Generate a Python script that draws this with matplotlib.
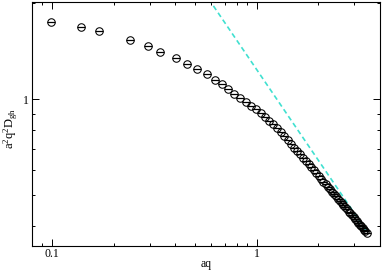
import matplotlib
matplotlib.use("Agg")
import matplotlib.pyplot as plt
from matplotlib.ticker import FixedLocator, NullFormatter, FixedFormatter

plt.rcParams['font.family'] = ['Liberation Serif', 'DejaVu Serif']
plt.rcParams['mathtext.fontset'] = 'custom'
plt.rcParams['mathtext.rm'] = 'Liberation Serif'
plt.rcParams['mathtext.it'] = 'Liberation Serif'

# data
q = [0.0986, 0.1385, 0.1696, 0.2401, 0.295, 0.339, 0.4027, 0.459, 0.5097,
     0.5703, 0.6237, 0.675,
     0.724, 0.778, 0.831, 0.885, 0.938, 0.991, 1.045, 1.098, 1.152, 1.205,
     1.259, 1.312, 1.366, 1.419, 1.473, 1.526, 1.580, 1.633, 1.687, 1.740,
     1.793, 1.847, 1.900, 1.954, 2.007, 2.061, 2.114, 2.168, 2.221, 2.275,
     2.328, 2.382, 2.435, 2.489, 2.542, 2.595, 2.649, 2.702, 2.756, 2.809,
     2.863, 2.916, 2.970, 3.023, 3.077, 3.130, 3.184, 3.237, 3.291, 3.344,
     3.397, 3.451]
d = [1.737, 1.683, 1.635, 1.532, 1.464, 1.405, 1.340, 1.289, 1.244,
     1.195, 1.149, 1.114,
     1.072, 1.038, 1.008, 0.979, 0.954, 0.931, 0.905, 0.880, 0.856, 0.834,
     0.811, 0.787, 0.764, 0.743, 0.724, 0.705, 0.688, 0.671, 0.655, 0.639,
     0.625, 0.611, 0.598, 0.586, 0.574, 0.563, 0.552, 0.542, 0.532, 0.522,
     0.513, 0.504, 0.496, 0.488, 0.480, 0.473, 0.466, 0.459, 0.452, 0.445,
     0.439, 0.433, 0.427, 0.421, 0.416, 0.411, 0.405, 0.400, 0.395, 0.390,
     0.386, 0.381]

# dashed power-law guide
line_q = [0.55, 3.46]
line_d = [2.17, 0.384]

xmaj = [0.1, 1]
xmaj_labels = ['0.1', '1']
xmin = [0.09, 0.2, 0.3, 0.4, 0.5, 0.6, 0.7, 0.8, 0.9, 2, 3]
ymaj = [1]
ymaj_labels = ['1']
ymin = [0.4, 0.5, 0.6, 0.7, 0.8, 0.9, 2]

fig = plt.figure(figsize=(3.82, 2.70), dpi=100)
ax = fig.add_axes([0.0838, 0.09, 0.911, 0.9026])

ax.plot(line_q, line_d, color='#40e0d0', lw=1.2, dashes=(3, 2))
ax.plot(q, d, ls='none', marker='o', mfc='none', mec='black', ms=5.4, mew=0.75)
ax.plot(q, d, ls='none', marker='_', color='black', ms=5.4, mew=0.9)

ax.set_xscale('log')
ax.set_yscale('log')
ax.set_xlim(0.08, 4.0)
ax.set_ylim(0.348, 2.01)

ax.xaxis.set_major_locator(FixedLocator(xmaj))
ax.xaxis.set_major_formatter(FixedFormatter(xmaj_labels))
ax.xaxis.set_minor_locator(FixedLocator(xmin))
ax.xaxis.set_minor_formatter(NullFormatter())
ax.yaxis.set_major_locator(FixedLocator(ymaj))
ax.yaxis.set_major_formatter(FixedFormatter(ymaj_labels))
ax.yaxis.set_minor_locator(FixedLocator(ymin))
ax.yaxis.set_minor_formatter(NullFormatter())

ax.tick_params(which='both', direction='in', top=True, right=True,
               labelsize=8.5, width=0.7)
ax.tick_params(axis='x', pad=2)
ax.tick_params(axis='y', pad=2.5)
ax.tick_params(which='major', length=5)
ax.tick_params(which='minor', length=2.5)
for s in ax.spines.values():
    s.set_linewidth(0.8)

ax.set_xlabel('aq', fontsize=8.5)
ax.xaxis.set_label_coords(0.5, -0.052)
ax.set_ylabel(r'$\mathrm{a^2q^2D_{gh}}$', fontsize=9)
ax.yaxis.set_label_coords(-0.034, 0.48)

fig.savefig('out.png', dpi=100)
